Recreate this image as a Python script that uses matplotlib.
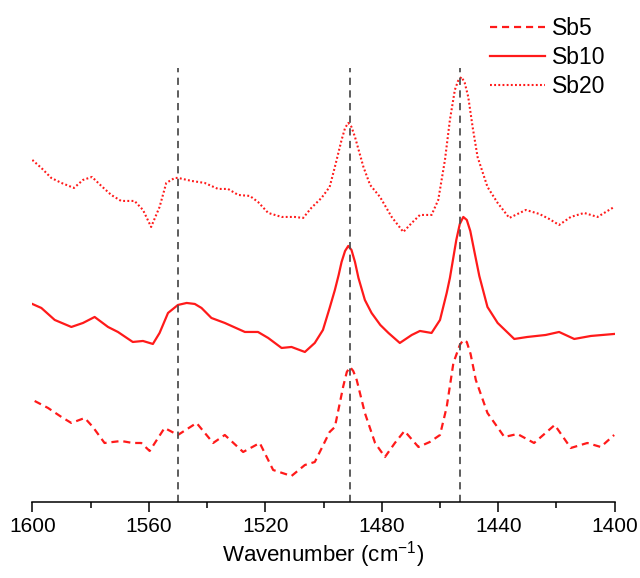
import numpy as np
import matplotlib
matplotlib.use("Agg")
import matplotlib.pyplot as plt
from matplotlib.ticker import MultipleLocator

plt.rcParams["font.family"] = ["Liberation Sans", "DejaVu Sans"]
plt.rcParams["mathtext.default"] = "regular"

# --- spectra (wavenumber in cm-1, intensity in a.u., offset stacked) ---
wn_sb20 = [1600.0, 1596.9, 1593.5, 1590.0, 1585.7, 1582.6, 1579.5, 1576.3, 1572.9, 1569.5,
           1564.9, 1562.0, 1559.2, 1556.3, 1554.0, 1551.1, 1549.9, 1545.3, 1540.8, 1536.2,
           1532.8, 1529.3, 1525.3, 1522.5, 1519.0, 1514.4, 1509.9, 1507.0, 1504.2, 1500.7,
           1497.9, 1496.1, 1493.8, 1492.6, 1491.5, 1490.4, 1489.2, 1486.3, 1484.0, 1480.6,
           1476.6, 1472.6, 1469.7, 1466.9, 1462.9, 1460.6, 1458.3, 1456.6, 1454.9, 1453.8,
           1452.6, 1451.5, 1450.3, 1448.8, 1447.1, 1443.7, 1440.2, 1436.2, 1430.5, 1425.9,
           1422.5, 1419.1, 1415.1, 1410.5, 1405.9, 1400.2]
sb20 = [3.42, 3.34, 3.24, 3.19, 3.14, 3.22, 3.25, 3.16, 3.07, 3.01,
        3.01, 2.92, 2.75, 2.95, 3.19, 3.24, 3.24, 3.21, 3.19, 3.13,
        3.13, 3.07, 3.06, 3.00, 2.89, 2.85, 2.85, 2.84, 2.94, 3.04,
        3.15, 3.35, 3.62, 3.74, 3.79, 3.75, 3.65, 3.35, 3.17, 3.05,
        2.85, 2.70, 2.79, 2.87, 2.87, 3.02, 3.42, 3.82, 4.12, 4.21,
        4.25, 4.19, 4.05, 3.75, 3.45, 3.15, 2.99, 2.84, 2.92, 2.88,
        2.83, 2.77, 2.85, 2.89, 2.85, 2.95]

wn_sb10 = [1600.0, 1596.9, 1592.3, 1586.6, 1582.6, 1578.6, 1574.0, 1570.6, 1565.5, 1562.0,
           1558.6, 1556.3, 1553.4, 1550.0, 1547.0, 1544.2, 1541.9, 1538.5, 1533.9, 1527.0,
           1522.5, 1519.0, 1514.4, 1511.0, 1506.4, 1503.0, 1500.2, 1497.9, 1496.1, 1494.8,
           1493.8, 1492.6, 1491.5, 1490.4, 1489.2, 1488.0, 1485.8, 1483.5, 1480.5, 1477.7,
           1473.8, 1469.7, 1466.9, 1462.9, 1460.0, 1457.7, 1456.6, 1455.5, 1454.4, 1453.2,
           1452.0, 1450.8, 1449.6, 1448.3, 1446.5, 1443.7, 1440.2, 1434.5, 1430.0, 1423.7,
           1419.1, 1413.9, 1408.2, 1400.2]
sb10 = [1.98, 1.94, 1.82, 1.75, 1.79, 1.85, 1.75, 1.70, 1.60, 1.61,
        1.58, 1.69, 1.89, 1.97, 1.99, 1.98, 1.94, 1.84, 1.79, 1.70,
        1.70, 1.64, 1.54, 1.55, 1.50, 1.59, 1.72, 1.94, 2.12, 2.27,
        2.40, 2.51, 2.56, 2.52, 2.40, 2.24, 2.02, 1.89, 1.77, 1.69,
        1.59, 1.67, 1.71, 1.69, 1.82, 2.09, 2.24, 2.43, 2.62, 2.78,
        2.85, 2.82, 2.71, 2.52, 2.26, 1.95, 1.79, 1.63, 1.65, 1.67,
        1.70, 1.63, 1.66, 1.68]

wn_sb5 = [1599.2, 1594.6, 1590.0, 1586.6, 1582.0, 1579.2, 1575.2, 1569.5, 1565.5, 1562.6,
          1559.7, 1554.6, 1550.0, 1543.6, 1537.9, 1533.9, 1527.6, 1521.9, 1517.3, 1511.0,
          1506.4, 1503.0, 1500.6, 1497.9, 1496.1, 1493.2, 1492.0, 1490.9, 1489.8, 1488.6,
          1485.8, 1482.3, 1478.9, 1475.5, 1472.2, 1467.4, 1463.5, 1460.0, 1457.7, 1455.4,
          1453.2, 1452.0, 1450.8, 1449.5, 1447.7, 1443.7, 1437.9, 1433.4, 1427.7, 1420.6,
          1415.1, 1409.4, 1404.8, 1400.2]
sb5 = [1.01, 0.94, 0.85, 0.79, 0.84, 0.75, 0.59, 0.61, 0.59, 0.59,
       0.51, 0.74, 0.67, 0.79, 0.59, 0.67, 0.50, 0.59, 0.32, 0.26,
       0.37, 0.40, 0.54, 0.70, 0.75, 1.16, 1.30, 1.35, 1.31, 1.22,
       0.89, 0.59, 0.45, 0.59, 0.71, 0.55, 0.60, 0.67, 0.95, 1.39,
       1.57, 1.62, 1.60, 1.48, 1.22, 0.89, 0.65, 0.68, 0.59, 0.77,
       0.54, 0.59, 0.55, 0.67]

marker_wn = [1550, 1491, 1453]
marker_top = 4.34

RED = "#ff1a1a"

fig = plt.figure(figsize=(6.4, 5.78), dpi=100)
ax = fig.add_axes([0.0505, 0.1315, 0.91, 0.86])

ax.plot(wn_sb5, sb5, color=RED, lw=1.6, ls=(0, (3.2, 2.2)), label="Sb5")
ax.plot(wn_sb10, sb10, color=RED, lw=1.6, ls="-", label="Sb10")
ax.plot(wn_sb20, sb20, color=RED, lw=1.5, ls=(0, (0.9, 1.1)), label="Sb20")

for w in marker_wn:
    ax.plot([w, w], [0, marker_top], color="#505050", lw=1.3, ls=(0, (4, 3)))

ax.set_xlim(1600, 1400)
ax.set_ylim(0, 4.97)
ax.xaxis.set_major_locator(MultipleLocator(40))
ax.xaxis.set_minor_locator(MultipleLocator(20))
ax.tick_params(axis="x", which="major", direction="out", length=7, width=1.1,
               labelsize=15, pad=4)
ax.tick_params(axis="x", which="minor", direction="out", length=4, width=1.1)
ax.set_yticks([])
for s in ["left", "right", "top"]:
    ax.spines[s].set_visible(False)
ax.spines["bottom"].set_linewidth(1.1)

ax.set_xlabel("Wavenumber (cm$^{-1}$)", fontsize=16, labelpad=2)

ax.legend(loc="upper right", frameon=False, fontsize=16.5, handlelength=2.4,
          handletextpad=0.3, labelspacing=0.28, borderaxespad=0.0,
          bbox_to_anchor=(1.0, 0.995))

plt.savefig("out.png", dpi=100)
